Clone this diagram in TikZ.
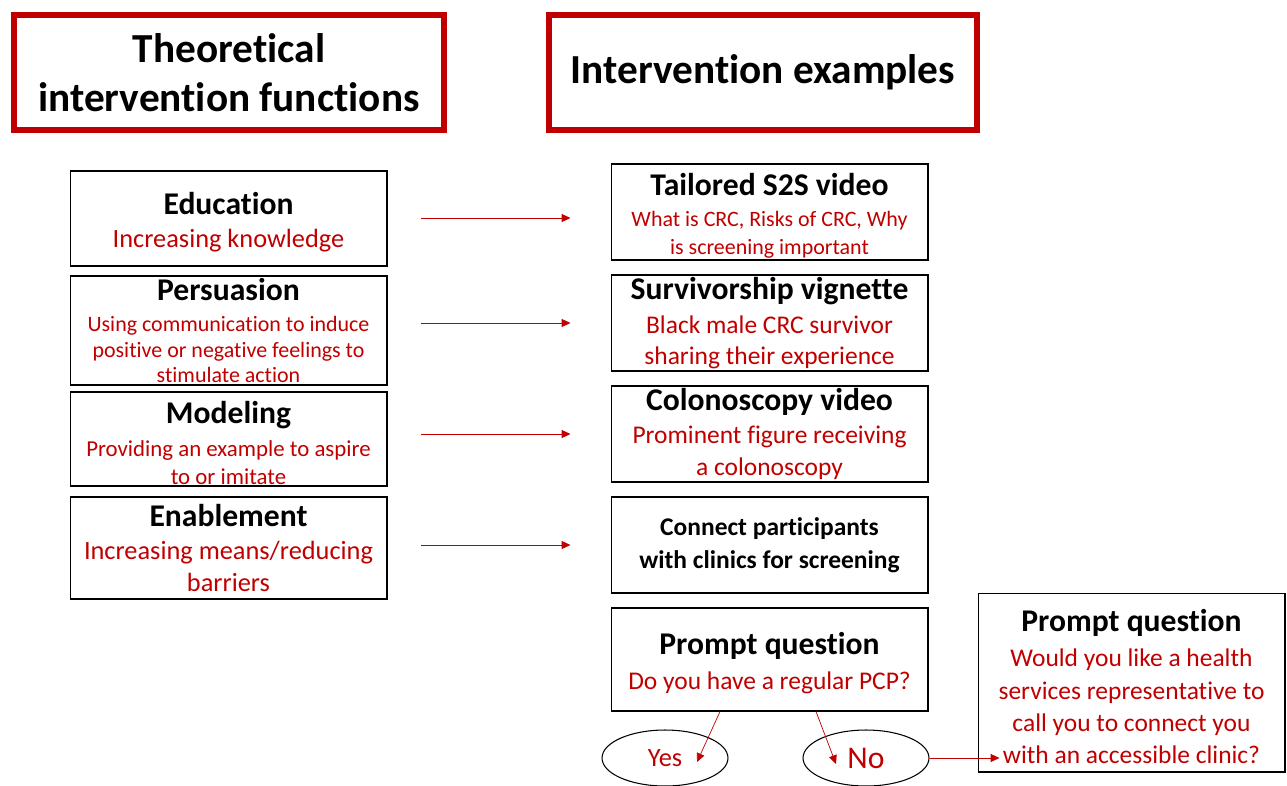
\documentclass[tikz,border=0pt]{standalone}
\usepackage{fontspec}
\setmainfont{Carlito}[Ligatures=NoCommon]
\usetikzlibrary{arrows.meta,positioning,shapes.geometric}
\definecolor{darkred}{RGB}{192,0,0}
\newcommand\hd[1]{{\color{black}\bfseries\fontsize{18}{22}\selectfont #1}}
\newcommand\hdlow[1]{\rule{0pt}{17pt}\hd{#1}}

\begin{document}
\begin{tikzpicture}[
        x=0.02cm, y=-0.02cm,
        >={Triangle[length=5pt,width=4.5pt]},
        titlebox/.style={draw=darkred, line width=3.4pt, align=center, font=\bfseries\fontsize{23.5}{28}\selectfont},
        fbox/.style={draw, semithick, minimum width=6.34cm, align=center, inner sep=0pt, text=darkred},
        choice/.style={ellipse, draw, semithick, minimum width=2.52cm, minimum height=1.12cm, text=darkred},
        link/.style={->, darkred, thin}
        ]
            \useasboundingbox (0, 0) rectangle (1287, 785);

            % Titles
            \node[titlebox, minimum width=8.62cm, minimum height=2.3cm] (theory) at (229, 72.5) {Theoretical\\intervention functions};
            \node[titlebox, minimum width=8.56cm, minimum height=2.3cm] (examples) at (763, 72.5) {Intervention examples};

            % Functions
            \node[fbox, minimum height=1.9cm, font=\fontsize{15}{18}\selectfont] (edu) at (228.5, 218.5) {\hdlow{Education}\\[1pt]Increasing knowledge};
            \node[fbox, minimum height=2.18cm, font=\fontsize{12.5}{14.7}\selectfont] (pers) at (228.5, 330.5) {\hd{Persuasion}\\[3pt]Using communication to induce\\positive or negative feelings to\\stimulate action};
            \node[fbox, minimum height=1.88cm, font=\fontsize{13}{16}\selectfont] (model) at (228.5, 439) {\hdlow{Modeling}\\[3pt]Providing an example to aspire\\to or imitate};
            \node[fbox, minimum height=2.04cm, font=\fontsize{15}{18}\selectfont] (enable) at (228.5, 548) {\hd{Enablement}\\[1pt]Increasing means/reducing\\barriers};

            % Examples
            \node[fbox, minimum height=1.92cm, font=\fontsize{12.5}{16}\selectfont] (tail) at (769.5, 212) {\hdlow{Tailored S2S video}\\[2pt]What is CRC, Risks of CRC, Why\\is screening important};
            \node[fbox, minimum height=1.92cm, font=\fontsize{14.5}{17.6}\selectfont] (surv) at (769.5, 323) {\hd{Survivorship vignette}\\[2pt]Black male CRC survivor\\sharing their experience};
            \node[fbox, minimum height=1.92cm, font=\fontsize{14.5}{18}\selectfont] (colon) at (769.5, 434) {\hd{Colonoscopy video}\\[1pt]Prominent figure receiving\\a colonoscopy};
            \node[fbox, minimum height=1.92cm, text=black, font=\bfseries\fontsize{14.5}{19}\selectfont] (clinic) at (769.5, 545) {Connect participants\\with clinics for screening};
            \node[fbox, minimum height=2.06cm, font=\fontsize{14.5}{18}\selectfont] (prompt) at (769.5, 659.5) {\hdlow{Prompt question}\\[2pt]Do you have a regular PCP?};
            \node[fbox, minimum width=6.14cm, minimum height=3.58cm, font=\fontsize{14.5}{18.3}\selectfont] (ask) at (1131.5, 682.5) {\hdlow{Prompt question}\\[2pt]Would you like a health\\services representative to\\call you to connect you\\with an accessible clinic?};

            % Answers
            \node[choice, font=\fontsize{15}{18}\selectfont] (yes) at (665, 758) {Yes};
            \node[choice, font=\fontsize{18}{22}\selectfont] (no) at (866, 758) {No};

            % Arrows
            \draw[link, shorten <=0.68cm, shorten >=0.8cm] ([yshift=-0.12cm]tail.west -| edu.east) -- ([yshift=-0.12cm]tail.west);
            \draw[link, shorten <=0.68cm, shorten >=0.8cm] (surv.west -| pers.east) -- (surv.west);
            \draw[link, shorten <=0.68cm, shorten >=0.8cm] (colon.west -| model.east) -- (colon.west);
            \draw[link, shorten <=0.68cm, shorten >=0.8cm] (clinic.west -| enable.east) -- (clinic.west);
            \draw[link] ([xshift=-0.99cm]prompt.south) -- ([shift={(0.64cm,-0.08cm)}]yes.center);
            \draw[link] ([xshift=0.93cm]prompt.south) -- ([shift={(-0.6cm,-0.12cm)}]no.center);
            \draw[link, shorten >=-0.44cm] (no.east) -- (no.east -| ask.west);
        \end{tikzpicture}
\end{document}
